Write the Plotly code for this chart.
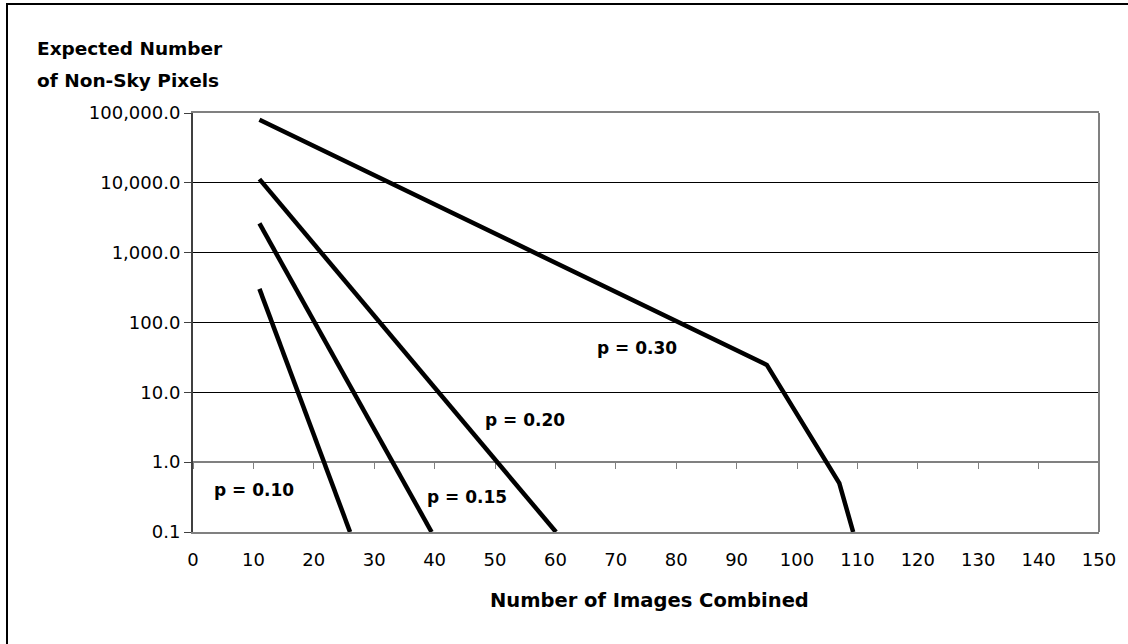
import math
import plotly.graph_objects as go

# ---- data ----
x_p10 = [11, 26.0]
y_p10 = [303, 0.1]

x_p15 = [11, 39.5]
y_p15 = [2620, 0.1]

x_p20 = [11, 60.1]
y_p20 = [11300, 0.1]

x_p30 = [11, 95, 107, 109.3]
y_p30 = [80000, 24.7, 0.5, 0.1]

series_names = ["p = 0.10", "p = 0.15", "p = 0.20", "p = 0.30"]
label_x = [10.1, 45.3, 54.9, 73.5]
label_y = [0.40, 0.317, 4.02, 42.9]

x_ticks = list(range(0, 151, 10))
y_tickvals = [0.1, 1, 10, 100, 1000, 10000, 100000]
y_ticktext = ["0.1", "1.0", "10.0", "100.0", "1,000.0", "10,000.0", "100,000.0"]

FONT = "DejaVu Sans"

fig = go.Figure()
for xs, ys, nm in zip([x_p10, x_p15, x_p20, x_p30], [y_p10, y_p15, y_p20, y_p30], series_names):
    fig.add_trace(go.Scatter(x=xs, y=ys, mode="lines", name=nm,
                             line=dict(color="black", width=4.5), showlegend=False,
                             hoverinfo="skip"))

# dummy trace so the secondary x axis (crossing at y = 1) is drawn
fig.add_trace(go.Scatter(x=[x_ticks[0]], y=[y_tickvals[1]], xaxis="x2", mode="markers",
                         marker=dict(opacity=0), showlegend=False, hoverinfo="skip"))

for nm, lx, ly in zip(series_names, label_x, label_y):
    fig.add_annotation(x=lx, y=math.log10(ly), text=nm, showarrow=False,
                       font=dict(family=FONT, size=17, color="black", weight="bold"),
                       xanchor="center", yanchor="middle")

W, H = 1128, 644
L, R, T, B = 193, 29, 113, 112
pw, ph = W - L - R, H - T - B

def px_x(p):
    return (p - L) / pw

def px_y(p):
    return (H - B - p) / ph

# y axis title (two lines)
fig.add_annotation(xref="paper", yref="paper", x=px_x(35), y=px_y(49), text="Expected Number",
                   showarrow=False, xanchor="left", yanchor="middle",
                   font=dict(family=FONT, size=18.5, color="black", weight="bold"))
fig.add_annotation(xref="paper", yref="paper", x=px_x(35), y=px_y(80), text="of Non-Sky Pixels",
                   showarrow=False, xanchor="left", yanchor="middle",
                   font=dict(family=FONT, size=18.5, color="black", weight="bold"))
# x axis title
fig.add_annotation(xref="paper", yref="paper", x=px_x(649), y=px_y(600), text="Number of Images Combined",
                   showarrow=False, xanchor="center", yanchor="middle",
                   font=dict(family=FONT, size=19.5, color="black", weight="bold"))

# outer chart border and right plot-area border
fig.add_shape(type="rect", xref="paper", yref="paper", x0=px_x(7), x1=px_x(1140),
              y0=px_y(660), y1=px_y(4), line=dict(color="black", width=2), layer="below")
fig.add_shape(type="line", xref="paper", yref="paper", x0=1, x1=1, y0=0, y1=1,
              line=dict(color="#808080", width=2))

fig.update_layout(
    width=W, height=H,
    margin=dict(l=L, r=R, t=T, b=B),
    paper_bgcolor="white", plot_bgcolor="white",
    font=dict(family=FONT, size=18, color="black"),
    xaxis=dict(range=[0, 150], tickvals=x_ticks, ticks="", showgrid=False, zeroline=False,
               showline=True, mirror=True, linecolor="#808080", linewidth=2,
               tickfont=dict(family=FONT, size=18, color="black"), ticklabelstandoff=10),
    xaxis2=dict(range=[0, 150], overlaying="x", anchor="free", position=1 / 6,
                tickvals=x_ticks, ticks="outside", ticklen=6, tickcolor="#808080", tickwidth=1,
                showticklabels=False, showgrid=False, zeroline=False,
                showline=True, linecolor="#808080", linewidth=2, layer="below traces"),
    yaxis=dict(type="log", range=[-1, 5], tickvals=y_tickvals, ticktext=y_ticktext,
               showgrid=True, gridcolor="black", gridwidth=1,
               showline=True, linecolor="#404040", linewidth=2,
               ticks="outside", ticklen=7, tickcolor="#404040", tickwidth=1,
               tickfont=dict(family=FONT, size=18, color="black")),
)

fig.write_html("out.html", config={"displayModeBar": False},
               post_script="document.body.style.margin='0';document.body.style.overflow='hidden';")
